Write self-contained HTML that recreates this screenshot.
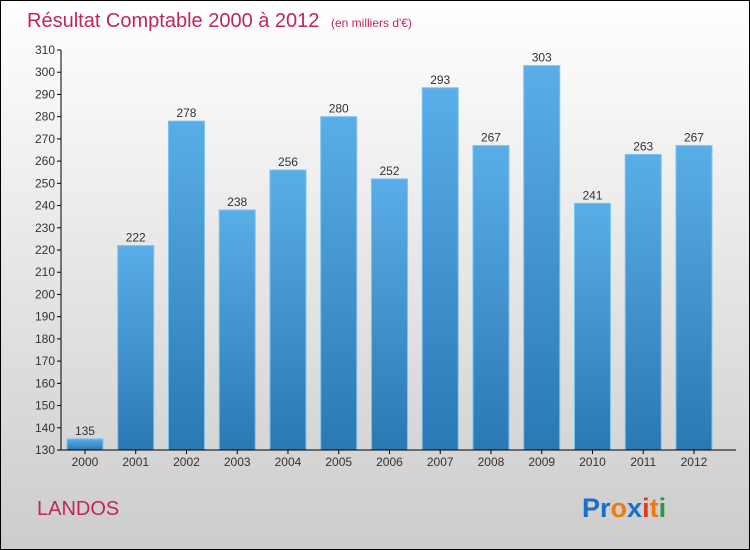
<!DOCTYPE html>
<html><head><meta charset="utf-8"><style>
body{margin:0;}
#wrap{width:750px;height:550px;position:relative;}
svg{display:block;font-family:"Liberation Sans",sans-serif;}
</style></head><body>
<div id="wrap">
<svg id="chart" width="750" height="550">
<defs>
<linearGradient id="bg" x1="0" y1="0" x2="0" y2="1"><stop offset="0" stop-color="#ffffff"/><stop offset="1" stop-color="#cccccc"/></linearGradient>
<linearGradient id="bar" x1="0" y1="0" x2="0" y2="1"><stop offset="0" stop-color="#5aaee8"/><stop offset="1" stop-color="#2a78b4"/></linearGradient>
</defs>
<rect x="0.5" y="0.5" width="749" height="549" fill="url(#bg)" stroke="#000"/>
<text x="27" y="27" font-size="20" fill="#c0265a">Résultat Comptable 2000 à 2012 <tspan font-size="12" dx="6">(en milliers d'€)</tspan></text>
<text x="37" y="515" font-size="20" fill="#c0265a">LANDOS</text>
<text x="582" y="517" font-size="27" font-weight="bold"><tspan fill="#1a6fc8">Pr</tspan><tspan fill="#f07a10">o</tspan><tspan fill="#1a6fc8">x</tspan><tspan fill="#e03a1a">i</tspan><tspan fill="#f07a10">t</tspan><tspan fill="#2a9a3a">i</tspan></text>
<g id="plot"></g>
</svg>
</div>
<script>
const years=["2000","2001","2002","2003","2004","2005","2006","2007","2008","2009","2010","2011","2012"];
const values=[135,222,278,238,256,280,252,293,267,303,241,263,267];
const yTicks=[130,140,150,160,170,180,190,200,210,220,230,240,250,260,270,280,290,300,310];
const NS="http://www.w3.org/2000/svg";
const g=document.getElementById('plot');
const x0=61,x1=736,xStart=59.6,band=50.75,yTop=50,yBot=450,yMin=130,yMax=310;
const yS=v=>yBot-(v-yMin)/(yMax-yMin)*(yBot-yTop);
const xS=i=>xStart+band*(i+0.5);
function mk(t,a){const e=document.createElementNS(NS,t);for(const k in a)e.setAttribute(k,a[k]);g.appendChild(e);return e;}
yTicks.forEach(t=>{
 const y=yS(t);
 const l=mk('line',{x1:x0-4,x2:x0,y1:y,y2:y,stroke:'#000'});
 
 
 const tx=mk('text',{x:x0-6,y:y+4,'font-size':12,'text-anchor':'end',fill:'#333'});
 tx.textContent=t;
 
 
});
years.forEach((yr,i)=>{
 const cx=xS(i),w=36,y=yS(values[i]);
 const r=mk('rect',{x:cx-w/2,y:y,width:w,height:yBot-y,fill:'url(#bar)',stroke:'#7cc4f0','stroke-width':1});
 
 
 const v=mk('text',{x:cx,y:y-4,'font-size':12,'text-anchor':'middle',fill:'#333'});
 v.textContent=values[i];
 
 
 const tl=mk('line',{x1:cx,x2:cx,y1:yBot,y2:yBot+4,stroke:'#000'});
 
 
 const xl=mk('text',{x:cx,y:yBot+16,'font-size':12,'text-anchor':'middle',fill:'#333'});
 xl.textContent=yr;
 
 
});
const ya=mk('line',{x1:x0,x2:x0,y1:yTop,y2:yBot,stroke:'#000'});


const xa=mk('line',{x1:x0,x2:x1,y1:yBot,y2:yBot,stroke:'#000'});


</script>
</body></html>
